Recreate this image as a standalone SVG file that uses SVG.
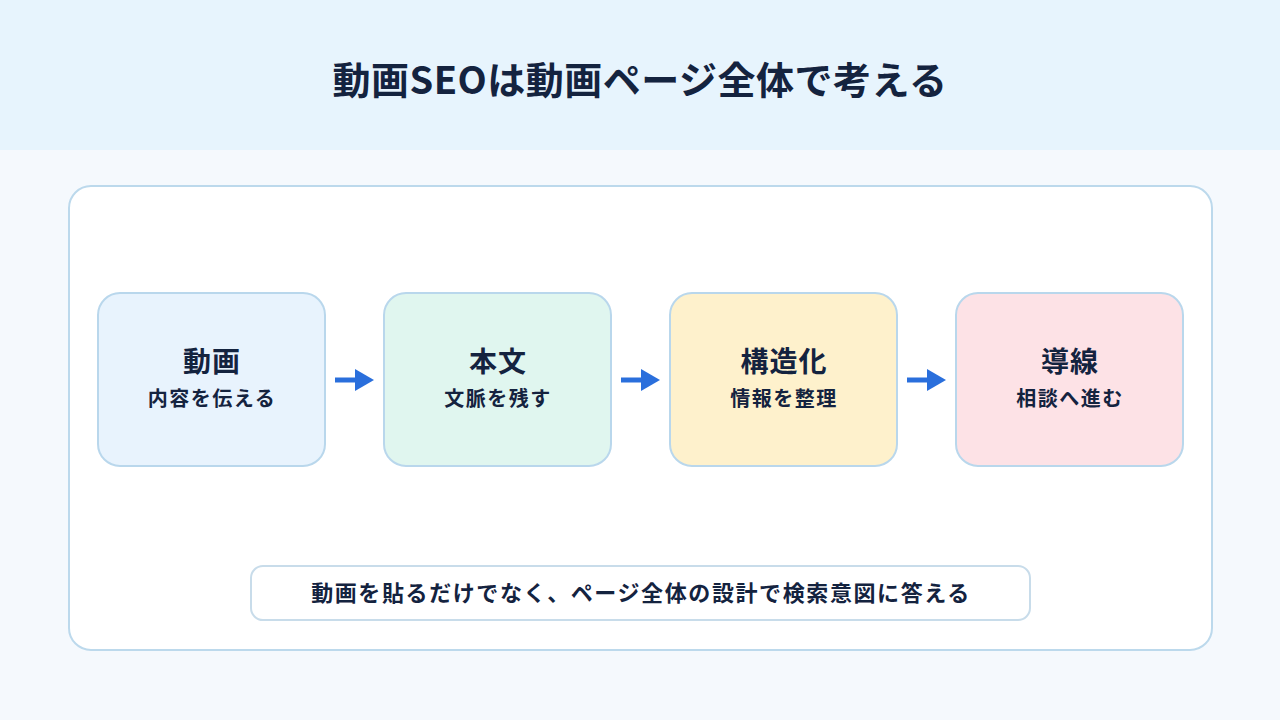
<svg xmlns="http://www.w3.org/2000/svg" width="1280" height="720" viewBox="0 0 1280 720">
<defs>
<style>
text{font-family:"Noto Sans CJK JP","Noto Sans",sans-serif;font-weight:700;fill:#14233f;text-anchor:middle}
.title{font-size:38px;letter-spacing:0.5px}
.h{font-size:28px;letter-spacing:1px}
.s{font-size:20px;letter-spacing:1.5px}
.note{font-size:22px;letter-spacing:1.6px}
.node{stroke:#b9d7ec;stroke-width:2}
.arrow{stroke:#2a6fdc;stroke-width:5;fill:none}
.head{fill:#2a6fdc}
</style>
</defs>
<rect x="0" y="0" width="1280" height="720" fill="#f5f9fd"/>
<rect x="0" y="0" width="1280" height="150" fill="#e7f4fd"/>
<text class="title" x="640" y="94">動画SEOは動画ページ全体で考える</text>
<rect x="69" y="186" width="1143" height="464" rx="22" fill="#ffffff" stroke="#bcd9ec" stroke-width="2"/>
<g id="n1">
<rect class="node" x="98" y="293" width="227" height="173" rx="22" fill="#e8f3fd"/>
<text class="h" x="212" y="372">動画</text>
<text class="s" x="212" y="406">内容を伝える</text>
</g>
<g id="n2">
<rect class="node" x="384" y="293" width="227" height="173" rx="22" fill="#e0f6ef"/>
<text class="h" x="498" y="372">本文</text>
<text class="s" x="498" y="406">文脈を残す</text>
</g>
<g id="n3">
<rect class="node" x="670" y="293" width="227" height="173" rx="22" fill="#fef1cc"/>
<text class="h" x="784" y="372">構造化</text>
<text class="s" x="784" y="406">情報を整理</text>
</g>
<g id="n4">
<rect class="node" x="956" y="293" width="227" height="173" rx="22" fill="#fde2e6"/>
<text class="h" x="1070" y="372">導線</text>
<text class="s" x="1070" y="406">相談へ進む</text>
</g>
<g id="connectors">
<line class="arrow" x1="335" y1="380" x2="357" y2="380"/>
<polygon class="head" points="355,369 374,380 355,391"/>
<line class="arrow" x1="621" y1="380" x2="643" y2="380"/>
<polygon class="head" points="641,369 660,380 641,391"/>
<line class="arrow" x1="907" y1="380" x2="929" y2="380"/>
<polygon class="head" points="927,369 946,380 927,391"/>
</g>
<g id="note">
<rect x="251" y="566" width="779" height="54" rx="12" fill="#ffffff" stroke="#c8dcea" stroke-width="2"/>
<text class="note" x="641" y="601">動画を貼るだけでなく、ページ全体の設計で検索意図に答える</text>
</g>
</svg>
